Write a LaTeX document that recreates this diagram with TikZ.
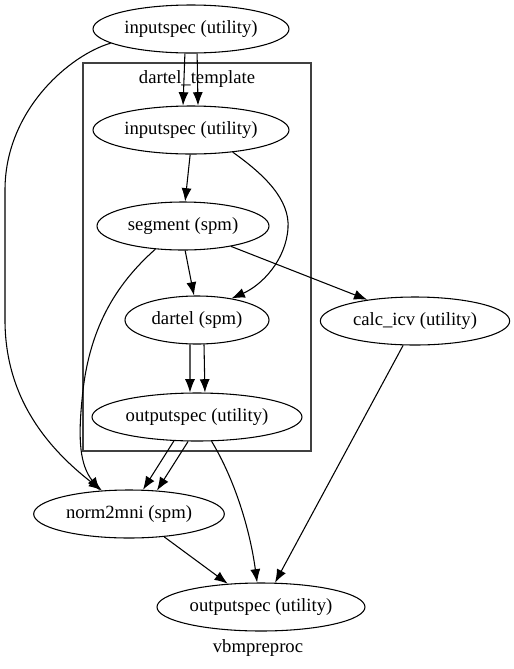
\documentclass[tikz,border=0pt]{standalone}
\usepackage{fontspec}
\setmainfont{Liberation Serif}
\usetikzlibrary{arrows.meta}
\usetikzlibrary{shapes.geometric}

\begin{document}
\begin{tikzpicture}[x=0.75pt,y=-0.75pt,
  proc/.style={draw,ellipse,line width=0.8pt,minimum height=36pt,inner sep=0pt,
    font=\fontsize{14pt}{16pt}\selectfont},
  flow/.style={-{Latex[length=10pt,width=7.5pt]},line width=0.8pt}]
\useasboundingbox (0,0) rectangle (514,669);

%cluster
\draw[line width=0.8pt,black!75] (83,63) rectangle (311,451);
\node[font=\fontsize{14pt}{16pt}\selectfont] (clab) at (197,79) {dartel\_template};

%nodes
\node[proc,minimum width=147pt] (topin) at (191,29) {inputspec (utility)};
\node[proc,minimum width=147pt] (din) at (191,130) {inputspec (utility)};
\node[proc,minimum width=129pt] (seg) at (183,226) {segment (spm)};
\node[proc,minimum width=108pt] (dartel) at (197,320) {dartel (spm)};
\node[proc,minimum width=142pt] (calc) at (415,321) {calc\_icv (utility)};
\node[proc,minimum width=157.5pt] (dout) at (197,417) {outputspec (utility)};
\node[proc,minimum width=143pt] (norm) at (129,514) {norm2mni (spm)};
\node[proc,minimum width=156pt] (out) at (261,607) {outputspec (utility)};
\node[font=\fontsize{14pt}{16pt}\selectfont] (glab) at (258,648) {vbmpreproc};

%edges into the template
\draw[flow] (topin.256) -- (din.108);
\draw[flow] (topin.284) -- (din.74);
\draw[flow] (din.268) -- (seg.85);
\draw[flow] (din.-28) .. controls (265,175) and (290,200) .. (288,228)
  .. controls (286,260) and (262,285) .. (dartel.32);
\draw[flow] (seg.275) -- (dartel.97);
\draw[flow] (dartel.254) -- (dout.106);
\draw[flow] (dartel.286) -- (dout.72);

%edges leaving it
\draw[flow] (topin.190) .. controls (70,55) and (5,110) .. (5,190) -- (5,320)
  .. controls (5,400) and (50,450) .. (norm.139);
\draw[flow] (seg.220) .. controls (115,285) and (88,330) .. (82,400)
  .. controls (78,440) and (80,465) .. (norm.141);
\draw[flow] (seg.-23) -- (calc.156);
\draw[flow] (dout.226) -- (norm.60);
\draw[flow] (dout.250) -- (norm.40);
\draw[flow] (dout.-59) .. controls (235,480) and (250,530) .. (out.99);
\draw[flow] (calc.244) -- (out.60);
\draw[flow] (norm.-33) -- (out.145);
\end{tikzpicture}
\end{document}
